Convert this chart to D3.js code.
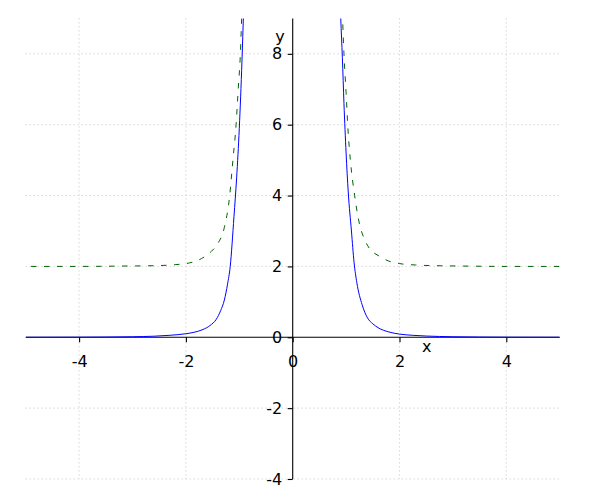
<!DOCTYPE html>
<html>
<head>
<meta charset="utf-8">
<script src="https://cdn.jsdelivr.net/npm/d3@7"></script>
<style>
  html, body { margin: 0; padding: 0; background: #ffffff; }
  svg { display: block; }
  text { font-family: "DejaVu Sans", sans-serif; }
</style>
</head>
<body>
<svg id="chart" width="600" height="500"></svg>
<script>
// ---- data ----
const xTicks = [-4, -2, 0, 2, 4];
const yTicks = [-4, -2, 0, 2, 4, 6, 8];

const blueLeftX  = [-5, -4, -3.5, -3, -2.6, -2.3, -2.0, -1.85, -1.68, -1.55, -1.43, -1.35, -1.28, -1.22, -1.17, -1.1, -1.05, -1.0, -0.95, -0.92, -0.89];
const blueLeftY  = [0.001, 0.003, 0.007, 0.015, 0.03, 0.056, 0.10, 0.14, 0.22, 0.33, 0.51, 0.75, 1.05, 1.5, 2.0, 3.4, 4.5, 5.9, 7.8, 9.2, 10.6];

const blueRightX = [0.87, 0.90, 0.93, 0.96, 1.00, 1.04, 1.10, 1.15, 1.20, 1.30, 1.40, 1.50, 1.60, 1.80, 2.00, 2.25, 2.5, 3.0, 3.5, 4.0, 5.0];
const blueRightY = [10.4, 9.0, 7.9, 6.6, 5.2, 4.1, 3.0, 2.1, 1.55, 0.92, 0.55, 0.38, 0.27, 0.15, 0.09, 0.055, 0.035, 0.015, 0.007, 0.003, 0.001];

const greenLeftX  = [-4.9, -4, -3.2, -2.6, -2.2, -1.93, -1.71, -1.52, -1.4, -1.28, -1.18, -1.12, -1.06, -1.02, -0.98, -0.95, -0.93];
const greenLeftY  = [2.0, 2.0, 2.01, 2.02, 2.05, 2.1, 2.22, 2.43, 2.65, 3.1, 4.0, 5.0, 6.0, 7.0, 8.0, 9.3, 10.3];

const greenRightX = [0.91, 0.93, 0.96, 1.0, 1.03, 1.08, 1.16, 1.25, 1.35, 1.45, 1.6, 1.8, 2.0, 2.3, 2.7, 3.2, 4.0, 5.0];
const greenRightY = [10.3, 9.2, 8.0, 6.9, 6.0, 5.0, 4.0, 3.2, 2.75, 2.48, 2.31, 2.15, 2.08, 2.04, 2.02, 2.01, 2.0, 2.0];

// ---- layout ----
const svg = d3.select("#chart");
const x = d3.scaleLinear().domain([-5, 5]).range([25.7, 559.7]);
const y = d3.scaleLinear().domain([-4, 9]).range([479, 18.4]);

// clip
svg.append("defs").append("clipPath").attr("id", "plotclip")
  .append("rect")
  .attr("x", x(-5)).attr("y", y(9))
  .attr("width", x(5) - x(-5)).attr("height", y(-4) - y(9));

// grid
const grid = svg.append("g").attr("stroke", "#b8b8b8").attr("stroke-width", 0.8)
  .attr("stroke-dasharray", "1,3");
xTicks.filter(d => d !== 0).forEach(d => {
  grid.append("line").attr("x1", x(d)).attr("x2", x(d)).attr("y1", y(9)).attr("y2", y(-4));
});
yTicks.filter(d => d !== 0).forEach(d => {
  grid.append("line").attr("x1", x(-5)).attr("x2", x(5)).attr("y1", y(d)).attr("y2", y(d));
});

// axes
const xAxis = d3.axisBottom(x).tickValues(xTicks).tickSize(5).tickPadding(13)
  .tickFormat(d => String(d));
const yAxis = d3.axisLeft(y).tickValues(yTicks).tickSize(5).tickPadding(5.5)
  .tickFormat(d => String(d));

const gx = svg.append("g").attr("transform", `translate(0,${y(0)})`).call(xAxis);
const gy = svg.append("g").attr("transform", `translate(${x(0)},0)`).call(yAxis);
[gx, gy].forEach(g => {
  g.select(".domain").attr("stroke", "#000").attr("stroke-width", 1.1);
  g.selectAll(".tick line").attr("stroke", "#000").attr("stroke-width", 1.1);
  g.selectAll(".tick text").attr("fill", "#000").style("font-size", "16px")
    .style("font-family", "'DejaVu Sans', sans-serif");
});
gx.select(".domain").attr("d", `M${x(-5)},0H${x(5)}`);
gy.select(".domain").attr("d", `M0,${y(9)}V${y(-4)}`);

// axis labels
svg.append("text").attr("x", 426.7).attr("y", 352.3).attr("text-anchor", "middle")
  .style("font-size", "16px").attr("fill", "#000").text("x");
svg.append("text").attr("x", 280).attr("y", 41.5).attr("text-anchor", "middle")
  .style("font-size", "16px").attr("fill", "#000").text("y");

// curves
const line = d3.line().x(d => x(d[0])).y(d => y(d[1])).curve(d3.curveMonotoneX);
const plot = svg.append("g").attr("clip-path", "url(#plotclip)");

function series(xs, ys) { return xs.map((v, i) => [v, ys[i]]); }

[[greenLeftX, greenLeftY], [greenRightX, greenRightY]].forEach(([xs, ys]) => {
  plot.append("path").datum(series(xs, ys)).attr("d", line)
    .attr("fill", "none").attr("stroke", "#006400").attr("stroke-width", 1)
    .attr("stroke-dasharray", "5.5,7.5");
});
[[blueLeftX, blueLeftY], [blueRightX, blueRightY]].forEach(([xs, ys]) => {
  plot.append("path").datum(series(xs, ys)).attr("d", line)
    .attr("fill", "none").attr("stroke", "#0000ff").attr("stroke-width", 1);
});
</script>
</body>
</html>
